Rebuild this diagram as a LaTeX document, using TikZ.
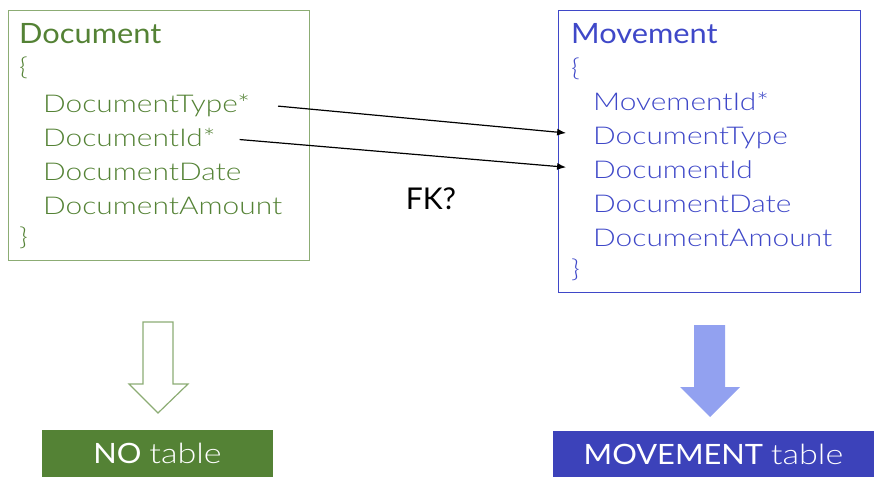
\documentclass[tikz,border=0pt]{standalone}
\usepackage{fontspec}
\setmainfont{Lato}
\newfontfamily\lightfont[FakeStretch=1.22]{Lato Light}
\newfontfamily\widefont[FakeStretch=1.1]{Lato}
\usetikzlibrary{arrows,arrows.meta,positioning,calc}

\definecolor{docgreen}{RGB}{84,130,53}
\definecolor{docline}{RGB}{140,172,116}
\definecolor{movblue}{RGB}{63,72,200}
\definecolor{movfill}{RGB}{60,66,186}
\definecolor{movarrow}{RGB}{146,161,240}

\begin{document}
\begin{tikzpicture}[x=1pt,y=-1pt,
  title/.style={anchor=base west,inner sep=0pt,font=\widefont\fontsize{28}{28}\selectfont},
  field/.style={anchor=base west,inner sep=0pt,text height=17pt,text depth=0pt,
    font=\lightfont\fontsize{24.5}{24.5}\selectfont},
  fk/.style={draw=black,line width=1.2pt,-{Latex[length=9pt,width=7pt]}},
  tablebox/.style={fill=#1,text=white,inner sep=0pt,font=\widefont\fontsize{28}{28}\selectfont}]
\useasboundingbox (0,0) rectangle (874,477);

% Document
\draw[docline,line width=1pt] (8,10) rectangle (309,260);
\node[title,text=docgreen] (doctitle) at (19,43) {Document};
\node[field,text=docgreen] (docopen) at (19,75) {\{};
\foreach \nm/\txt [count=\i] in {dtype/DocumentType*,did/DocumentId*,ddate/DocumentDate,damount/DocumentAmount}
  \node[field,text=docgreen] (\nm) at (43,{78+34*\i}) {\txt};
\node[field,text=docgreen] (docclose) at (19,245) {\}};

% Movement
\draw[movblue,line width=1pt] (558,10) rectangle (860,292);
\node[title,text=movblue] (movtitle) at (571,43) {Movement};
\node[field,text=movblue] (movopen) at (571,76) {\{};
\foreach \nm/\txt [count=\i] in {mid/MovementId*,mtype/DocumentType,mdid/DocumentId,mdate/DocumentDate,mamount/DocumentAmount}
  \node[field,text=movblue] (\nm) at (593,{76+34*\i}) {\txt};
\node[field,text=movblue] (movclose) at (571,277) {\}};

% foreign keys
\draw[fk,shorten <=28pt,shorten >=27pt] (dtype.east) -- (mtype.west);
\draw[fk,shorten <=24pt,shorten >=27pt] (did.east) -- (mdid.west);
\node[font=\fontsize{30}{30}\selectfont] (fk) at (431,199) {FK?};

% results
\draw[docline,line width=1.2pt] (143,322) -- (173,322) -- (173,384) -- (188,384)
  -- (158,413) -- (129,384) -- (143,384) -- cycle;
\fill[movarrow] (694,325) -- (725,325) -- (725,387) -- (740,387)
  -- (710,417) -- (680,387) -- (694,387) -- cycle;
\node[tablebox=docgreen,minimum width=231pt,minimum height=47pt] (notable) at (157.5,453.5)
  {NO {\lightfont table}};
\node[tablebox=movfill,minimum width=321pt,minimum height=46pt] (movtable) at (713.5,454)
  {MOVEMENT {\lightfont table}};
\end{tikzpicture}
\end{document}
